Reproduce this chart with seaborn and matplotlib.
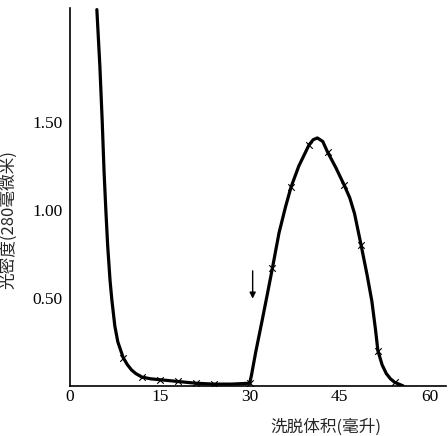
import matplotlib
matplotlib.use("Agg")
import matplotlib.pyplot as plt
import seaborn as sns
import pandas as pd

# Left peak (void / salt fraction) - curve
curve1_x = [4.5, 5.0, 5.4, 5.7, 6.0, 6.3, 6.7, 7.0, 7.5, 8.0, 8.9, 9.6, 10.3, 11.0, 12.0, 13.5, 15.0, 18.0, 21.0, 24.0, 27.0, 30.0]
curve1_y = [2.14, 1.82, 1.50, 1.22, 1.00, 0.80, 0.60, 0.49, 0.34, 0.25, 0.16, 0.12, 0.09, 0.07, 0.05, 0.04, 0.035, 0.025, 0.015, 0.01, 0.01, 0.015]

# Right peak - curve
curve2_x = [30.0, 30.3, 31.0, 32.1, 33.0, 33.8, 34.9, 36.0, 36.9, 38.2, 39.9, 40.6, 41.3, 42.2, 43.0, 44.4, 45.8, 46.7, 47.5, 48.6, 49.6, 50.4, 51.0, 51.4, 52.1, 52.8, 53.5, 54.2, 55.6]
curve2_y = [0.015, 0.06, 0.19, 0.375, 0.53, 0.67, 0.87, 1.02, 1.13, 1.25, 1.37, 1.40, 1.41, 1.39, 1.33, 1.24, 1.14, 1.07, 0.98, 0.80, 0.63, 0.48, 0.32, 0.20, 0.12, 0.07, 0.04, 0.02, 0.0]

# Measured points (x markers)
pts_x = [8.9, 12.0, 15.0, 18.0, 21.0, 24.0, 30.0, 33.8, 36.9, 39.9, 43.0, 45.8, 48.6, 51.4, 54.2]
pts_y = [0.16, 0.05, 0.035, 0.025, 0.015, 0.01, 0.015, 0.67, 1.13, 1.37, 1.33, 1.14, 0.80, 0.20, 0.02]

x_ticks = [0, 15, 30, 45, 60]
x_ticklabels = ["0", "15", "30", "45", "60"]
y_ticks = [0.5, 1.0, 1.5]
y_ticklabels = ["0.50", "1.00", "1.50"]
x_label = "洗脱体积(毫升)"
y_label = "光密度(280毫微米)"
arrow_x = 30.5

sns.set_theme(style="white")
plt.rcParams['font.family'] = ['Liberation Serif', 'Noto Sans CJK SC', 'DejaVu Sans']

fig = plt.figure(figsize=(4.48, 4.36), dpi=100)
ax = fig.add_axes([0.156, 0.115, 0.84, 0.867])

df1 = pd.DataFrame({"x": curve1_x, "y": curve1_y})
df2 = pd.DataFrame({"x": curve2_x, "y": curve2_y})
dfp = pd.DataFrame({"x": pts_x, "y": pts_y})

sns.lineplot(data=df1, x="x", y="y", ax=ax, color="black", lw=2.3, sort=False, estimator=None)
sns.lineplot(data=df2, x="x", y="y", ax=ax, color="black", lw=2.3, sort=False, estimator=None)
sns.scatterplot(data=dfp, x="x", y="y", ax=ax, marker="x", color="black", s=22, linewidth=0.8)

ax.annotate("", xy=(arrow_x, 0.48), xytext=(arrow_x, 0.67),
            arrowprops=dict(arrowstyle="-|>", color="black", lw=1.0, mutation_scale=9))

ax.set_xlim(0, 62.8)
ax.set_ylim(0, 2.15)
ax.set_xticks(x_ticks)
ax.set_xticklabels(x_ticklabels, fontsize=12.5)
ax.set_yticks(y_ticks)
ax.set_yticklabels(y_ticklabels, fontsize=12.5)
ax.tick_params(axis="x", direction="in", length=5, width=1, pad=2, colors="black")
ax.tick_params(axis="y", direction="inout", length=8, width=1, pad=1, colors="black")

for s in ["top", "right"]:
    ax.spines[s].set_visible(False)
for s in ["left", "bottom"]:
    ax.spines[s].set_color("black")
    ax.spines[s].set_linewidth(1.2)

ax.set_xlabel(x_label, fontsize=12, family=['Noto Sans CJK SC'])
ax.set_ylabel(y_label, fontsize=12, family=['Noto Sans CJK SC'])
ax.xaxis.set_label_coords(0.68, -0.085)
ax.yaxis.set_label_coords(-0.14, 0.44)

fig.savefig("out.png", dpi=100, facecolor="white")
